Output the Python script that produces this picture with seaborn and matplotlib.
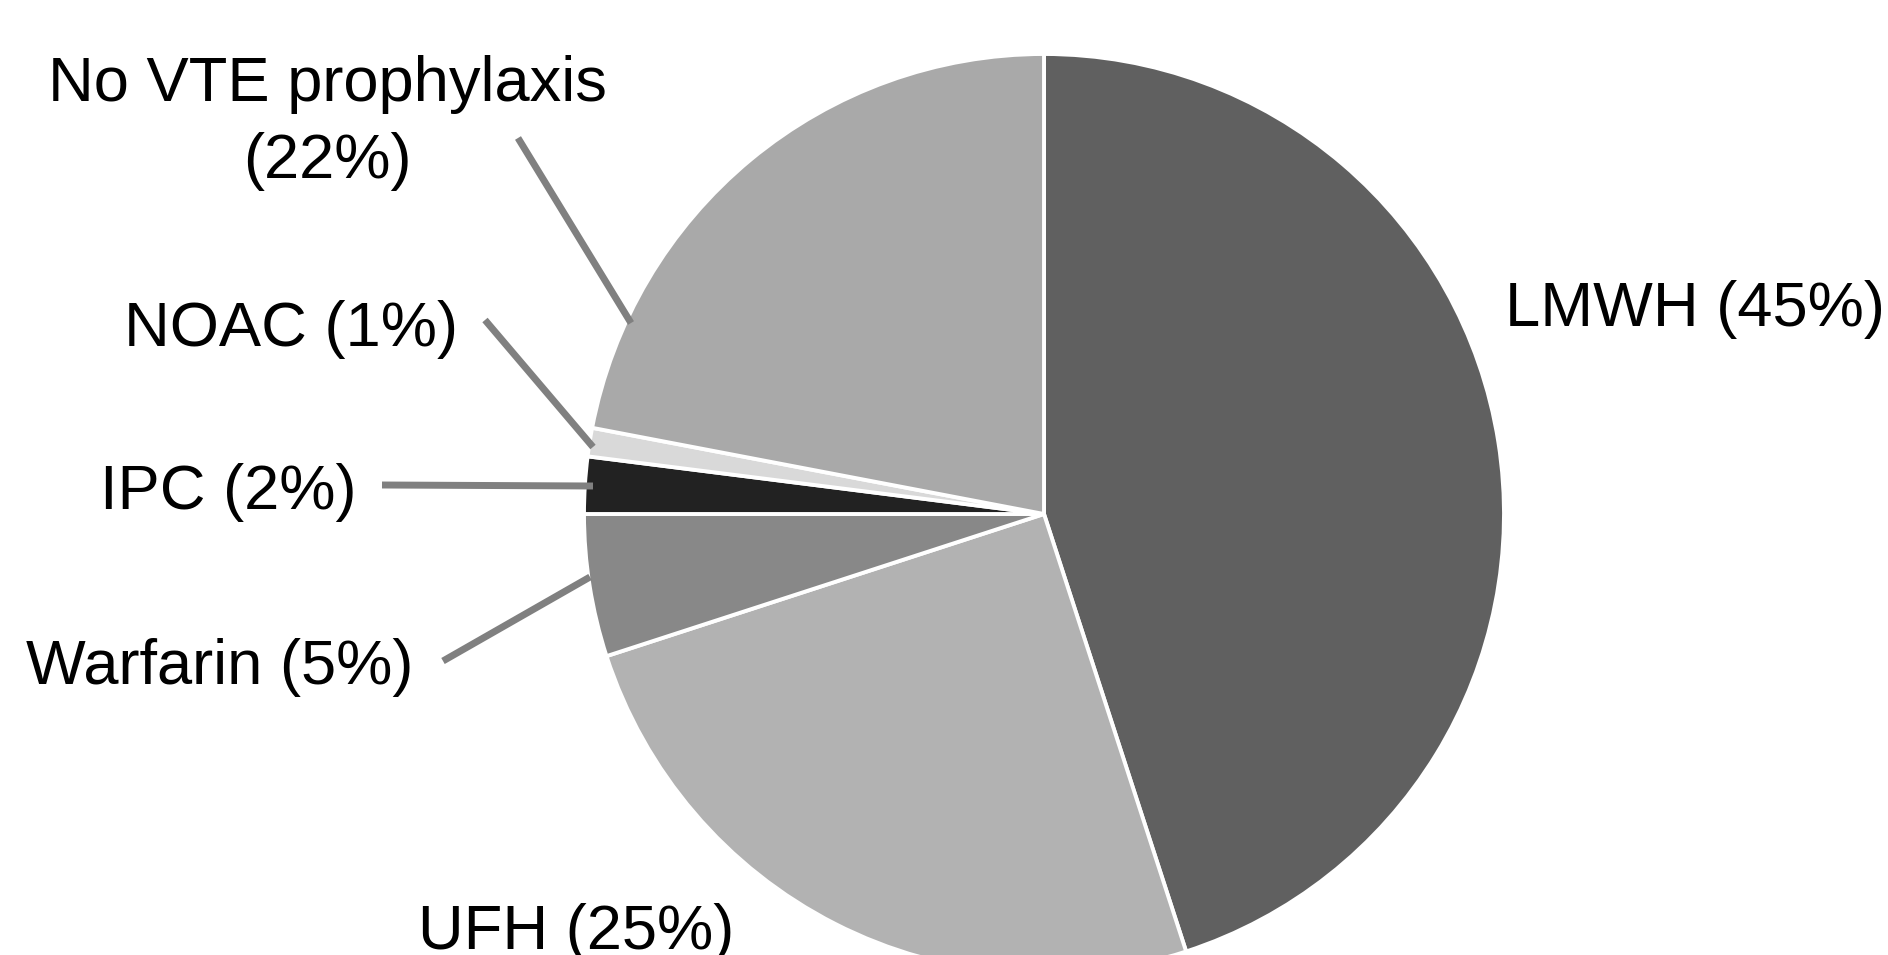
import matplotlib
matplotlib.use("Agg")
import matplotlib.pyplot as plt
import seaborn as sns

# data
categories = ["LMWH", "UFH", "Warfarin", "IPC", "NOAC", "No VTE prophylaxis"]
shares = [45, 25, 5, 2, 1, 22]
colors = ["#606060", "#b2b2b2", "#888888", "#222222", "#d9d9d9", "#a9a9a9"]

# label layout in pixel coords (x, baseline y, alignment) and leader lines
label_pos = {
    "LMWH": (1505, 326, "left"),
    "UFH": (418, 949, "left"),
    "Warfarin": (26, 684, "left"),
    "IPC": (100, 509, "left"),
    "NOAC": (124, 346, "left"),
    "No VTE prophylaxis": (327, 178, "center"),
}
leaders = {
    "No VTE prophylaxis": ((518, 138), (631, 323)),
    "NOAC": ((485, 320), (593, 447)),
    "IPC": ((382, 485), (593, 486)),
    "Warfarin": ((443, 661), (590, 577)),
}

W, H = 1888, 955
CENTER = (1044, 514)
RADIUS = 460


def make_label(name, value):
    if name == "No VTE prophylaxis":
        return f"{name}\n({value}%)"
    return f"{name} ({value}%)"


def main():
    sns.set_theme(style="white")
    plt.rcParams["font.family"] = ["Liberation Sans", "DejaVu Sans"]

    fig = plt.figure(figsize=(W / 100, H / 100), dpi=100)
    ax = fig.add_axes([0, 0, 1, 1])

    # y axis is inverted below, so counterclock in data = clockwise on screen
    ax.pie(shares, colors=colors, startangle=-90, counterclock=True,
           center=CENTER, radius=RADIUS,
           wedgeprops=dict(edgecolor="white", linewidth=2.8))

    for (a, b) in leaders.values():
        ax.plot([a[0], b[0]], [a[1], b[1]], color="#808080", lw=5,
                solid_capstyle="butt")

    for name, value in zip(categories, shares):
        x, y, ha = label_pos[name]
        ax.text(x, y, make_label(name, value), ha=ha, va="baseline",
                fontsize=45.5, color="black", linespacing=1.4,
                multialignment="center")

    ax.set_xlim(0, W)
    ax.set_ylim(H, 0)
    ax.set_aspect("equal")
    ax.axis("off")

    fig.savefig("out.png", dpi=100, facecolor="white")


if __name__ == "__main__":
    main()
